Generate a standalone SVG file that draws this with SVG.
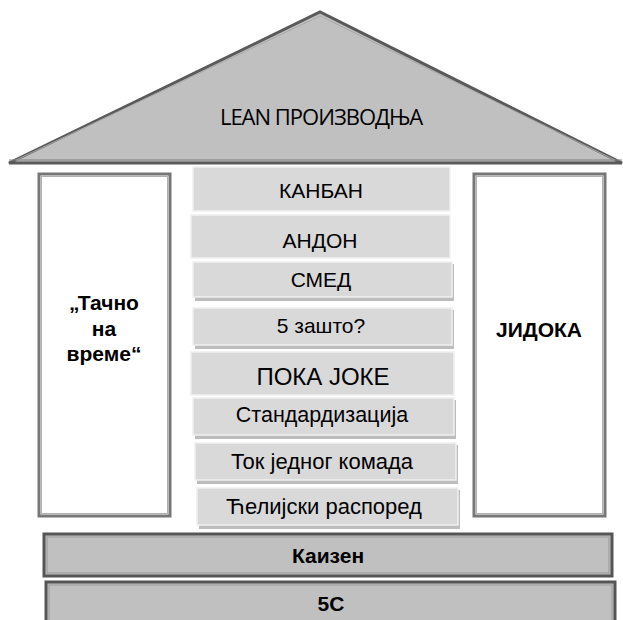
<svg xmlns="http://www.w3.org/2000/svg" width="623" height="620" viewBox="0 0 623 620">
  <style>
    .roof { fill: #c0c0c0; stroke: #5a5a5a; stroke-width: 3; stroke-linejoin: miter; }
    .roof-in { fill: none; stroke: #a8a8a8; stroke-width: 1; }
    .pillar { fill: #ffffff; stroke: #777777; stroke-width: 3; }
    .pillar-in { fill: none; stroke: #b0b0b0; stroke-width: 1; }
    .block { fill: #d9d9d9; stroke: #f0f0f0; stroke-width: 1.5; }
    .shadow { fill: #bdbdbd; }
    .base { fill: #c0c0c0; stroke: #555555; stroke-width: 3; }
    .base-in { fill: none; stroke: #9a9a9a; stroke-width: 1; }
    .t { font-family: "Liberation Sans", Arial, sans-serif; fill: #000; text-anchor: middle; font-size: 21px; }
    .b { font-weight: bold; font-size: 21px; }
    .roof-t { font-family: "Open Sans", "Noto Sans", sans-serif; font-size: 22px; fill: #000; text-anchor: middle; letter-spacing: -1px; }
  </style>

  <!-- roof -->
  <g id="roof">
    <polygon class="roof" points="9,163 320,12 622,163"/>
    <polygon class="roof-in" points="16,160 320,16 615,160"/>
    <line x1="9" y1="160" x2="622" y2="160" stroke="#8a8a8a" stroke-width="1"/>
    <text class="roof-t" x="321" y="125">LEAN ПРОИЗВОДЊА</text>
  </g>

  <!-- left pillar -->
  <g id="pillar-jit">
    <rect class="pillar" x="39" y="174" width="131" height="342"/>
    <rect class="pillar-in" x="41.5" y="176.5" width="126" height="337"/>
    <text class="t b" x="104" y="310">„Тачно</text>
    <text class="t b" x="104" y="336">на</text>
    <text class="t b" x="104" y="361">време“</text>
  </g>

  <!-- right pillar -->
  <g id="pillar-jidoka">
    <rect class="pillar" x="474" y="174" width="131" height="342"/>
    <rect class="pillar-in" x="476.5" y="176.5" width="126" height="337"/>
    <text class="t b" x="539" y="337">ЈИДОКА</text>
  </g>

  <!-- central stack of tools -->
  <g id="kanban">
    <rect class="block" x="193" y="167" width="257" height="44"/>
    <text class="t" x="321" y="198">КАНБАН</text>
  </g>
  <g id="andon">
    <rect class="block" x="191" y="215" width="259" height="43"/>
    <text class="t" x="320" y="248">АНДОН</text>
  </g>
  <g id="smed">
    <rect class="shadow" x="195" y="264" width="259" height="37"/>
    <rect class="block" x="193" y="262" width="259" height="35"/>
    <text class="t" x="321" y="287">СМЕД</text>
  </g>
  <g id="five-why">
    <rect class="shadow" x="195" y="310" width="259" height="39"/>
    <rect class="block" x="193" y="308" width="259" height="37"/>
    <text class="t" x="321" y="333">5 зашто?</text>
  </g>
  <g id="poka-yoke">
    <rect class="block" x="191" y="352" width="263" height="43"/>
    <text class="t" x="323" y="385" style="font-size:24px">ПОКА ЈОКЕ</text>
  </g>
  <g id="standardization">
    <rect class="shadow" x="195" y="400" width="261" height="39"/>
    <rect class="block" x="193" y="398" width="261" height="37"/>
    <text class="t" x="322" y="422" style="font-size:21.5px">Стандардизација</text>
  </g>
  <g id="one-piece-flow">
    <rect class="shadow" x="197" y="445" width="261" height="39"/>
    <rect class="block" x="195" y="443" width="261" height="37"/>
    <text class="t" x="322" y="469" style="font-size:22px">Ток једног комада</text>
  </g>
  <g id="cell-layout">
    <rect class="shadow" x="199" y="490" width="261" height="39"/>
    <rect class="block" x="197" y="488" width="261" height="37"/>
    <text class="t" x="324" y="514" style="font-size:22px">Ћелијски распоред</text>
  </g>

  <!-- foundation -->
  <g id="kaizen">
    <rect class="base" x="44" y="534" width="568" height="42"/>
    <rect class="base-in" x="47" y="537" width="562" height="36"/>
    <text class="t b" x="328" y="563">Каизен</text>
  </g>
  <g id="five-s">
    <rect class="base" x="46" y="582" width="569" height="44"/>
    <rect class="base-in" x="49" y="585" width="563" height="38"/>
    <text class="t b" x="331" y="611">5С</text>
  </g>

  <g id="connectors"/>
</svg>
